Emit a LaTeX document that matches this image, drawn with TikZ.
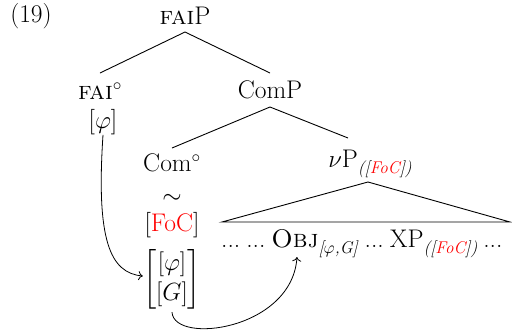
\documentclass[tikz,border=0pt]{standalone}
\usepackage{amsmath}
\usepackage{xcolor}
\usetikzlibrary{arrows.meta}
\newcommand{\subit}[1]{\raisebox{-0.6ex}{\fontsize{17}{20}\selectfont\textit{#1}}}
\newcommand{\gp}{\hspace{6pt}}
\begin{document}
\begin{tikzpicture}[x=1pt,y=-1pt,
  lab/.style={inner sep=0pt,font=\fontsize{25.5}{30}\selectfont},
  branch/.style={line width=0.9pt},
  mv/.style={line width=0.8pt,-{To[length=4.5pt,width=9pt]}}]
\useasboundingbox (0,0) rectangle (512,335);
\node[lab] (ex) at (31,16) {(19)};
\node[lab] (faiP) at (185,16) {\textsc{fai}P};
\node[lab] (fai) at (100,91) {\textsc{fai}$^{\circ}$};
\node[lab] (phi) at (103,122) {[$\varphi$]};
\node[lab] (ComP) at (270,90) {ComP};
\node[lab] (Com) at (172,163) {Com$^{\circ}$};
\node[lab] (tl) at (172,199) {$\sim$};
\node[lab] (foc) at (172,225) {[\textcolor{red}{FoC}]};
\node[lab,minimum height=60pt] (mat) at (172,286) {\smash{$\begin{bmatrix}[\varphi]\\ {[G]}\end{bmatrix}$}};
\node[lab] (vP) at (370,164) {$\nu$P\subit{([\textcolor{red}{FoC}])}};
\node[lab,anchor=base west] (bot) at (221,247) {...\gp...\gp\textsc{Obj}\subit{[$\varphi$,G]}\gp...\gp XP\subit{([\textcolor{red}{FoC}])}\gp...};
\coordinate (obj) at (297,257);
\coordinate (faiPb) at (185,32);
\coordinate (fait) at (100,73);
\coordinate (ComPt) at (270,73);
\coordinate (ComPb) at (270,107);
\coordinate (Comt) at (172,148);
\coordinate (vPt) at (348,138);
\coordinate (vPb) at (368,182);
\coordinate (trL) at (222,222);
\coordinate (trR) at (510,222);
\draw[branch] (fait) -- (faiPb) -- (ComPt);
\draw[branch] (Comt) -- (ComPb) -- (vPt);
\draw[branch] (trL) -- (vPb) -- (trR) -- cycle;
\draw[mv] (phi.south) .. controls (96,240) and (110,273) .. ([yshift=10pt]mat.west);
\draw[mv] ([yshift=4pt]mat.south) .. controls (174,345) and (292,330) .. (obj);
\end{tikzpicture}
\end{document}
